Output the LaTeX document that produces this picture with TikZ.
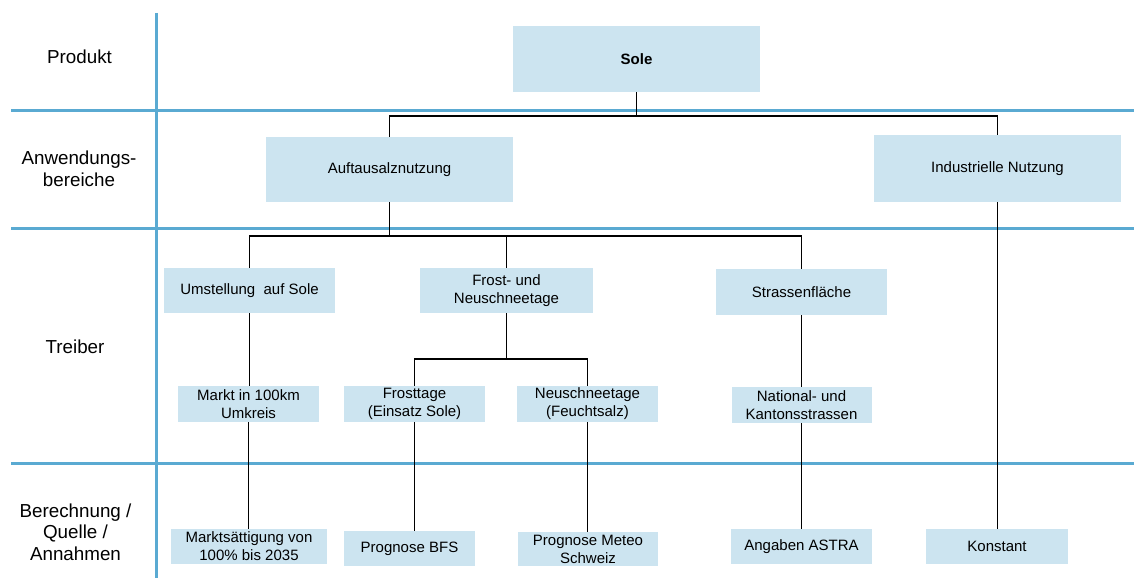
\documentclass[tikz,border=0pt]{standalone}
\usepackage{fontspec}
\setmainfont{Liberation Sans}
\definecolor{gridblue}{RGB}{90,170,210}
\definecolor{boxfill}{RGB}{204,228,240}
\tikzset{
  box/.style={fill=boxfill, inner sep=0pt, align=center, font=\fontsize{15}{18}\selectfont},
  rowlabel/.style={inner sep=0pt, align=center, font=\fontsize{18.8}{21.7}\selectfont},
  gridline/.style={draw=gridblue, line width=3pt},
  conn/.style={draw=black, line width=1.3pt}
}
\begin{document}
\begin{tikzpicture}[x=1pt,y=-1pt]
\useasboundingbox (0,0) rectangle (1134,578);
% grid
\coordinate (gv1) at (156,13);
\coordinate (gv2) at (156,578);
\coordinate (gh1a) at (11,110);
\coordinate (gh1b) at (1134,110);
\coordinate (gh2a) at (11,228);
\coordinate (gh2b) at (1134,228);
\coordinate (gh3a) at (11,463);
\coordinate (gh3b) at (1134,463);
\draw[gridline] (gv1) -- (gv2);
\draw[gridline] (gh1a) -- (gh1b);
\draw[gridline] (gh2a) -- (gh2b);
\draw[gridline] (gh3a) -- (gh3b);
% row labels
\node[rowlabel] (lp) at (79.5,57) {Produkt};
\node[rowlabel] (la) at (79,169) {Anwendungs-\\bereiche};
\node[rowlabel] (lt) at (75,347) {Treiber};
\node[rowlabel] (lb) at (75.5,532) {Berechnung /\\Quelle /\\Annahmen};
% boxes
\node[box, minimum width=247pt, minimum height=66pt] (sole) at (636.5,59) {\textbf{Sole}};
\node[box, minimum width=247pt, minimum height=65pt] (auf) at (389.5,169.5) {Auftausalznutzung};
\node[box, minimum width=247pt, minimum height=67pt] (ind) at (997.5,168.5) {Industrielle Nutzung};
\node[box, minimum width=171pt, minimum height=45pt] (ums) at (249.5,290.5) {Umstellung\ \ auf Sole};
\node[box, minimum width=173pt, minimum height=45pt] (frost) at (506.5,290.5) {Frost- und\\Neuschneetage};
\node[box, minimum width=171pt, minimum height=46pt] (str) at (801.5,292) {Strassenfläche};
\node[box, minimum width=141pt, minimum height=36pt] (markt) at (248.5,404) {Markt in 100km\\Umkreis};
\node[box, minimum width=141pt, minimum height=36pt] (ftage) at (414.5,404) {Frosttage\\(Einsatz Sole)};
\node[box, minimum width=141pt, minimum height=36pt] (nstage) at (587.5,404) {Neuschneetage\\(Feuchtsalz)};
\node[box, minimum width=140pt, minimum height=36pt] (nat) at (801.5,405) {National- und\\Kantonsstrassen};
\node[box, minimum width=156pt, minimum height=35pt] (msat) at (249,546.5) {Marktsättigung von\\100\% bis 2035};
\node[box, minimum width=131pt, minimum height=35pt] (pbfs) at (409.5,548.5) {Prognose BFS};
\node[box, minimum width=140pt, minimum height=34pt] (pmet) at (588,549) {Prognose Meteo\\Schweiz};
\node[box, minimum width=141pt, minimum height=35pt] (ast) at (801.5,546.5) {Angaben ASTRA};
\node[box, minimum width=142pt, minimum height=35pt] (konst) at (997,546.5) {Konstant};
% bus coordinates
\coordinate (b1) at (637,116);
\coordinate (b2) at (390,236);
\coordinate (b3) at (508,359);
% connectors
\draw[conn] (sole.south) -- (sole.south |- b1);
\draw[conn] (auf.north) -- (auf.north |- b1) -- (ind.north |- b1) -- (ind.north);
\draw[conn] (auf.south) -- (auf.south |- b2);
\draw[conn] (ums.north) -- (ums.north |- b2) -- (str.north |- b2) -- (str.north);
\draw[conn] (frost.north) -- (frost.north |- b2);
\draw[conn] (frost.south) -- (frost.south |- b3);
\draw[conn] (ftage.north) -- (ftage.north |- b3) -- (nstage.north |- b3) -- (nstage.north);
\draw[conn] (ums.south) -- (ums.south |- markt.north);
\draw[conn] (markt.south) -- (markt.south |- msat.north);
\draw[conn] (ftage.south) -- (ftage.south |- pbfs.north);
\draw[conn] (nstage.south) -- (nstage.south |- pmet.north);
\draw[conn] (str.south) -- (str.south |- nat.north);
\draw[conn] (nat.south) -- (nat.south |- ast.north);
\draw[conn] (ind.south) -- (ind.south |- konst.north);
\end{tikzpicture}
\end{document}
